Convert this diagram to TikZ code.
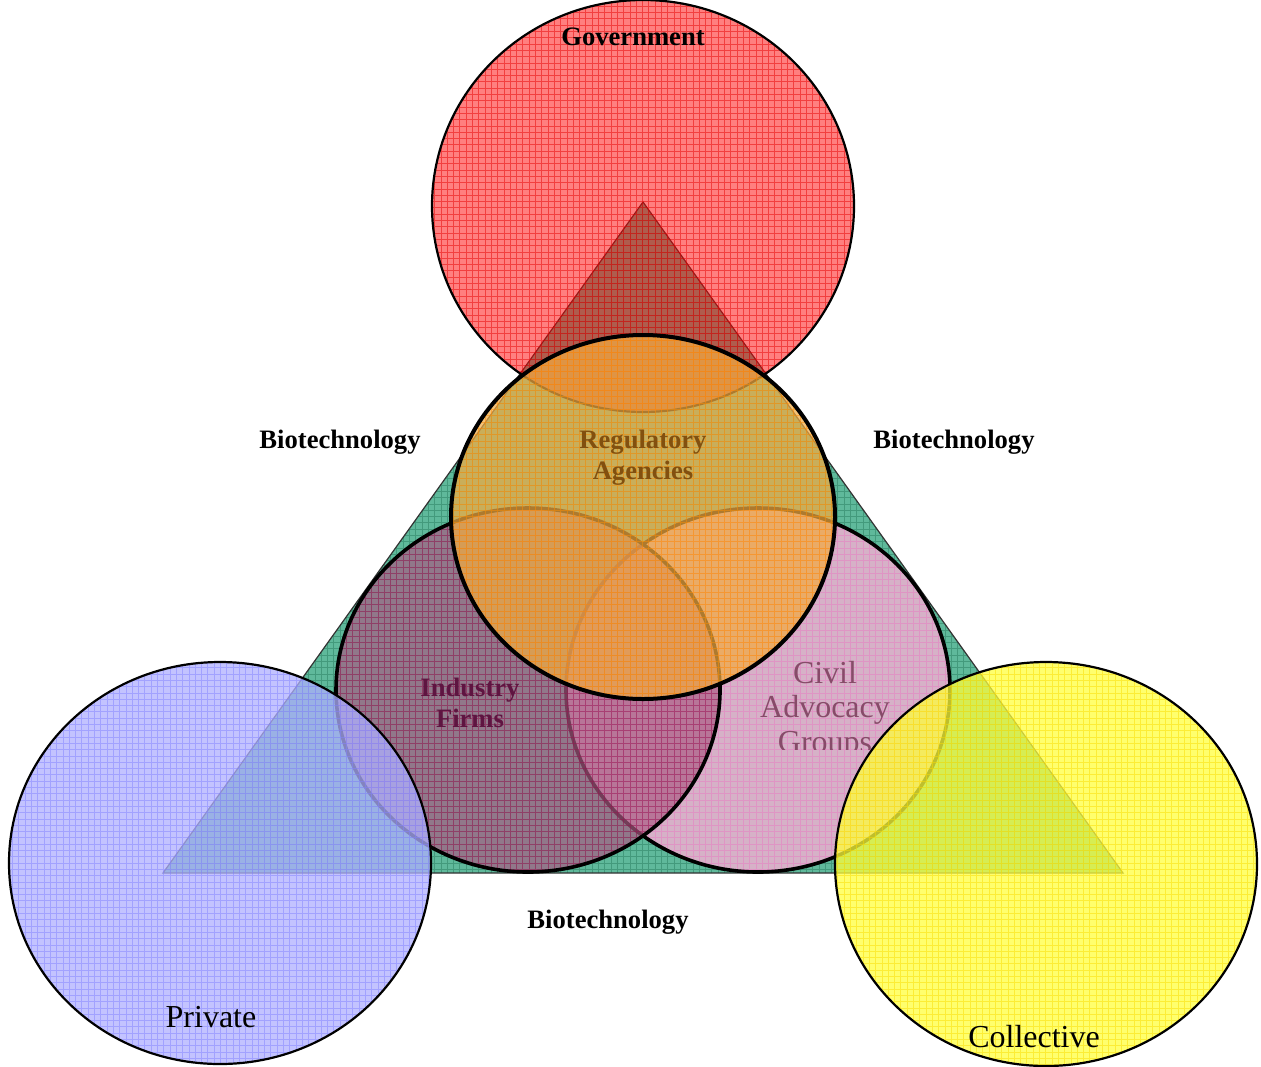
\documentclass[tikz,border=0pt]{standalone}
\usepackage{fontspec}
\setmainfont{Liberation Serif}
\usetikzlibrary{positioning}

\definecolor{trifill}{RGB}{95,185,155}
\definecolor{trigrid}{RGB}{40,125,95}
\definecolor{govfill}{RGB}{255,0,0}
\definecolor{govgrid}{RGB}{230,0,0}
\definecolor{regfill}{RGB}{242,170,65}
\definecolor{reggrid}{RGB}{255,140,0}
\definecolor{indfill}{RGB}{170,90,130}
\definecolor{indgrid}{RGB}{150,20,80}
\definecolor{civfill}{RGB}{255,175,215}
\definecolor{civgrid}{RGB}{240,130,200}
\definecolor{privfill}{RGB}{175,175,255}
\definecolor{privgrid}{RGB}{130,130,255}
\definecolor{collfill}{RGB}{255,255,60}
\definecolor{collgrid}{RGB}{250,220,0}
\definecolor{regtext}{RGB}{130,80,15}
\definecolor{indtext}{RGB}{95,20,65}
\definecolor{civtext}{RGB}{135,75,105}

\begin{document}
\begin{tikzpicture}[
    x=0.5pt, y=-0.5pt,
    gridfill/.style={path picture={\draw[#1, line width=0.45pt, draw opacity=0.5]
        (path picture bounding box.south west) grid[step=3.15pt]
        (path picture bounding box.north east);}},
    outer/.style={draw=black, line width=1.1pt},
    inner/.style={draw=black, line width=1.8pt},
    boldtext/.style={font=\fontsize{13.3}{15.5}\selectfont\bfseries, align=center},
    bigtext/.style={font=\fontsize{16}{17.25}\selectfont, align=center}
  ]
    \clip (0,0) rectangle (1261,1066);
    \coordinate (apex) at (643,202);
    \coordinate (left) at (163,873);
    \coordinate (right) at (1123,873);
    \filldraw[fill=trifill, gridfill=trigrid, draw=black!80, line width=0.6pt]
      (apex) -- (left) -- (right) -- cycle;
    \filldraw[fill=govfill, fill opacity=0.5, gridfill=govgrid, outer]
      (643,206) ellipse[x radius=105.5pt, y radius=103pt];
    \filldraw[fill=civfill, fill opacity=0.75, gridfill=civgrid, inner]
      (758,690) ellipse[x radius=96pt, y radius=91pt];
    \filldraw[fill=indfill, fill opacity=0.68, gridfill=indgrid, inner]
      (528,690) ellipse[x radius=96pt, y radius=91pt];
    \filldraw[fill=regfill, fill opacity=0.72, gridfill=reggrid, draw=black, line width=2pt]
      (643,517) ellipse[x radius=96pt, y radius=91pt];
    \filldraw[fill=privfill, fill opacity=0.75, gridfill=privgrid, outer]
      (220,863) ellipse[x radius=105.5pt, y radius=100.5pt];
    \filldraw[fill=collfill, fill opacity=0.75, gridfill=collgrid, outer]
      (1046,864) ellipse[x radius=105.5pt, y radius=101pt];

    \node[boldtext, anchor=base] (gov) at (633,45) {Government};
    \node[boldtext, anchor=base] (bioleft) at (340,448) {Biotechnology};
    \node[boldtext, anchor=base] (bioright) at (954,448) {Biotechnology};
    \node[boldtext, anchor=base] (biobottom) at (608,928) {Biotechnology};
    \node[boldtext, text=regtext] (reg) at (643,458) {Regulatory\\Agencies};
    \node[boldtext, text=indtext] (ind) at (470,703) {Industry\\Firms};
    \begin{scope}
      \clip (700,640) rectangle (950,749);
      \node[bigtext, text=civtext] (civ) at (825,710) {Civil\\Advocacy\\Groups};
    \end{scope}
    \node[bigtext, anchor=base] (priv) at (211,1027) {Private};
    \node[bigtext, anchor=base] (coll) at (1034,1047) {Collective};
  \end{tikzpicture}
\end{document}
